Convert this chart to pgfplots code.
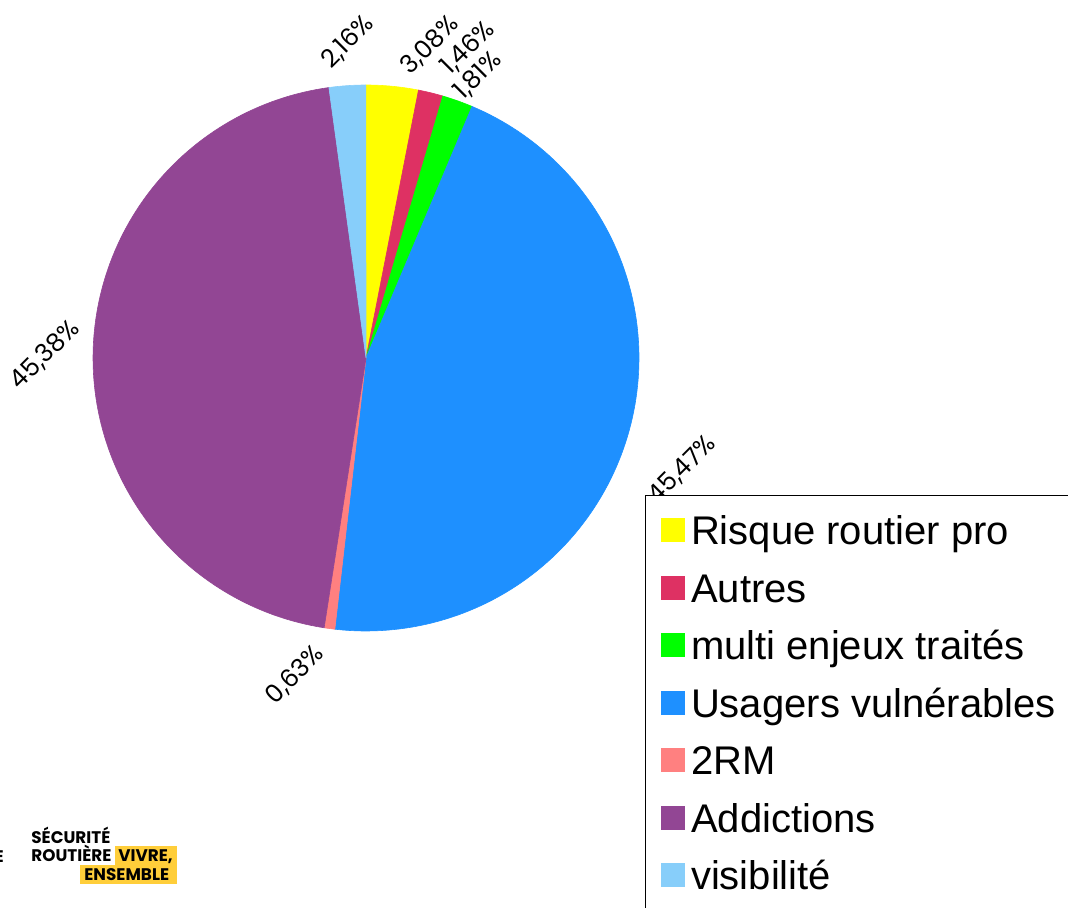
\documentclass[border=0pt]{standalone}
\usepackage{pgfplots}
\pgfplotsset{compat=1.18}
\usepackage{fontspec}
\setmainfont{Liberation Sans}
\newfontfamily\labelfont{Poppins}
\newfontfamily\logofont{Poppins}
\definecolor{cRisque}{HTML}{FFFF00}
\definecolor{cAutres}{HTML}{DE3163}
\definecolor{cMulti}{HTML}{00FF00}
\definecolor{cUsagers}{HTML}{1E90FF}
\definecolor{c2RM}{HTML}{FF8080}
\definecolor{cAddic}{HTML}{924694}
\definecolor{cVisi}{HTML}{87CEFA}
\definecolor{logoyellow}{HTML}{FFCE3A}
% running total of the percentages
\def\cum{0}
\newcommand{\pieslice}[3]{% #1 = value (%), #2 = colour, #3 = legend text
  \pgfmathsetmacro\aS{90-3.6*\cum}%
  \pgfmathsetmacro\newcum{\cum+#1}%
  \pgfmathsetmacro\aE{90-3.6*\newcum}%
  \global\let\cum\newcum
  \edef\doit{\noexpand\addplot[fill=#2, draw=#2, line width=0.3pt, domain=\aE:\aS, samples=120]
    ({366+273*cos(x)},{549+273*sin(x)}) -- (366,549) -- cycle;
    \noexpand\addlegendentry{#3}}%
  \doit
}
\begin{document}
\begin{tikzpicture}
\path[use as bounding box, clip] (0,0) rectangle (534pt,453.5pt);
\begin{axis}[
  x=0.5pt, y=0.5pt,
  xmin=0, xmax=1068, ymin=0, ymax=907,
  hide axis, clip=false,
  legend cell align=left,
  legend image code/.code={\fill[#1] (-1pt,-3.55pt) rectangle (10.5pt,7.95pt);},
  legend style={at={(0.60393,0.45424)}, anchor=north west,
    draw=black, line width=0.5pt, fill=white,
    inner xsep=7.5pt, inner ysep=7.5pt, row sep=4.75pt, column sep=1.5pt,
    font=\fontsize{20pt}{24pt}\selectfont,
    nodes={inner sep=2pt, text height=15pt, text depth=5pt}},
]
\pieslice{3.08}{cRisque}{Risque routier pro}
\pieslice{1.46}{cAutres}{Autres}
\pieslice{1.81}{cMulti}{multi enjeux traités}
\pieslice{45.47}{cUsagers}{Usagers vulnérables}
\pieslice{0.63}{c2RM}{2RM}
\pieslice{45.38}{cAddic}{Addictions}
\pieslice{2.16}{cVisi}{visibilité}

% data labels
\begin{scope}[every node/.style={rotate=45, font=\labelfont\fontsize{12.5pt}{15pt}\selectfont, inner sep=0pt}]
\node at (axis cs:430,862) {3,08\%};
\node at (axis cs:468,859) {1,46\%};
\node at (axis cs:478,831) {1,81\%};
\node at (axis cs:682,437) {45,47\%};
\node at (axis cs:295,232) {0,63\%};
\node at (axis cs:45,552) {45,38\%};
\node at (axis cs:348,865) {2,16\%};
\end{scope}

% logo
\node[fill=logoyellow, anchor=south west, minimum width=31pt, minimum height=10pt, inner sep=0pt] at (axis cs:115,41) {};
\node[fill=logoyellow, anchor=south west, minimum width=48.5pt, minimum height=9.5pt, inner sep=0pt] at (axis cs:80,23) {};
\begin{scope}[every node/.style={font=\logofont\bfseries\fontsize{8.4pt}{10pt}\selectfont, inner sep=0pt, anchor=base west}]
\node at (axis cs:31,64) {SÉCURITÉ};
\node at (axis cs:31,46) {ROUTIÈRE};
\node at (axis cs:118,46) {VIVRE,};
\node at (axis cs:84,27) {ENSEMBLE};
\node[anchor=base east] at (axis cs:4,45) {E};
\end{scope}
\end{axis}
\end{tikzpicture}
\end{document}
